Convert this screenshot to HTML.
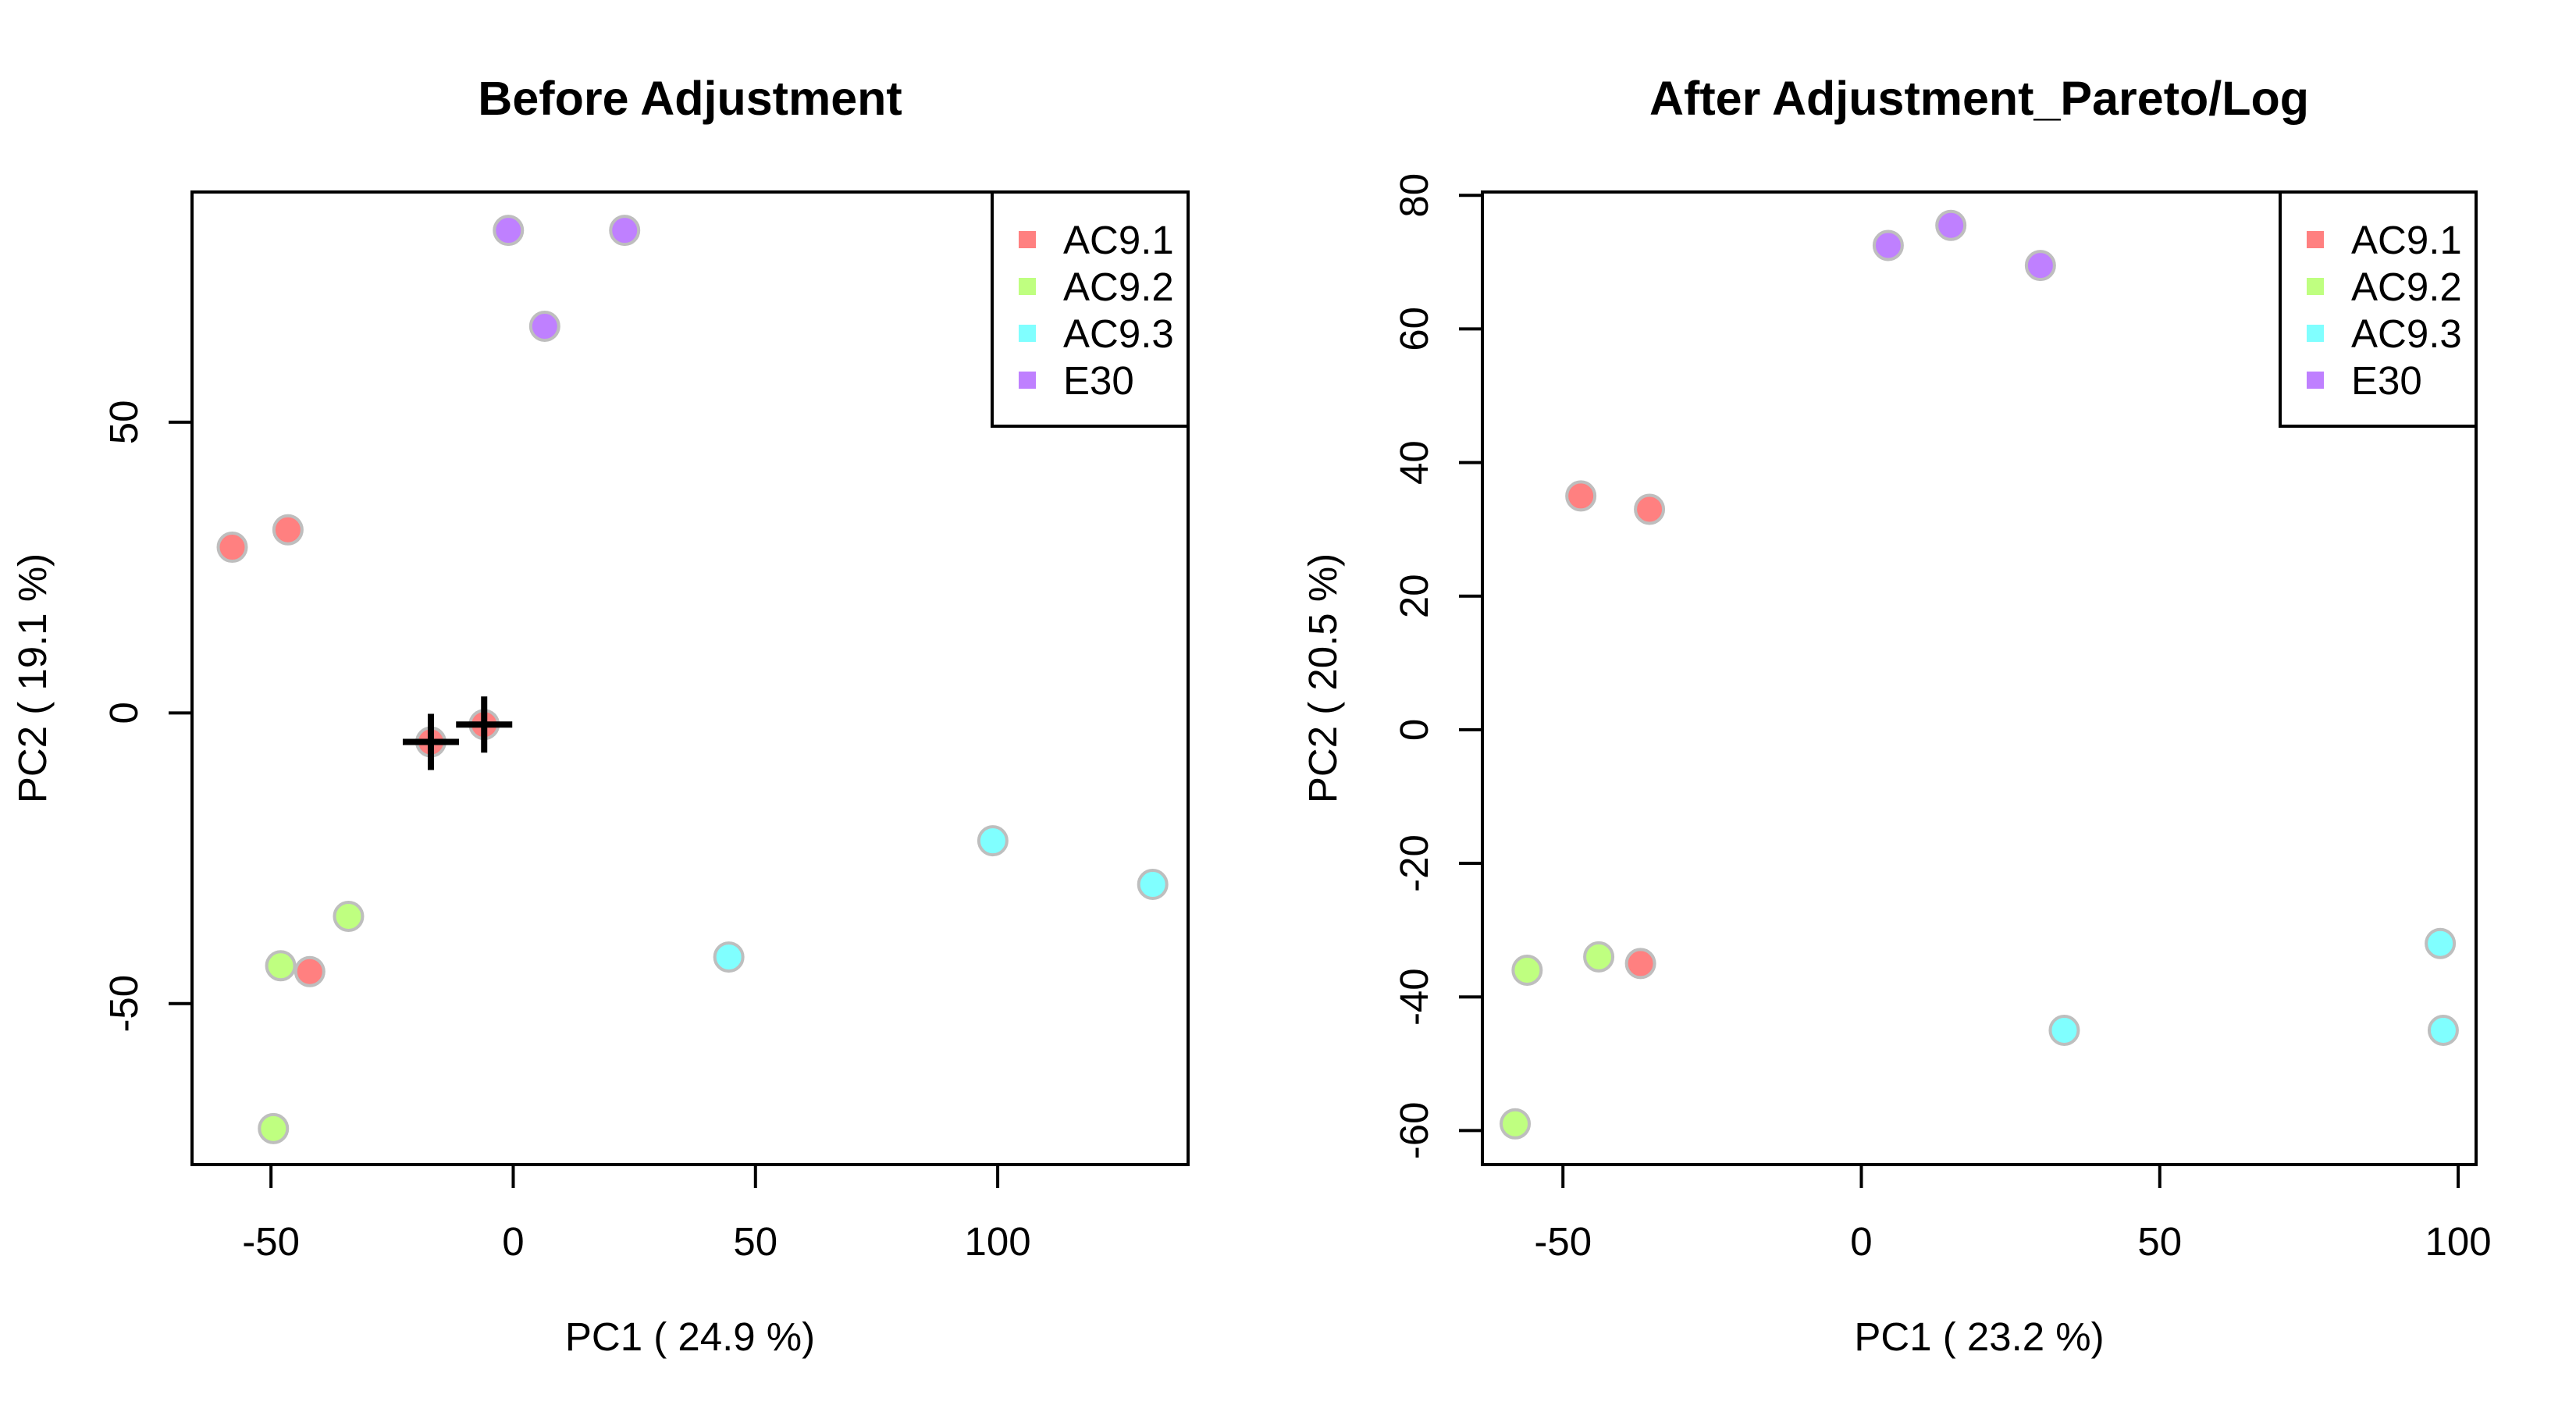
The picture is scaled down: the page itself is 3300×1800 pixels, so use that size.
<!DOCTYPE html>
<html><head><meta charset="utf-8"><style>
html,body{margin:0;padding:0;background:#fff}
svg{display:block;font-family:"Liberation Sans",Arial,sans-serif}
</style></head><body>
<svg id="chart" width="3300" height="1800" viewBox="0 0 3300 1800"></svg>
<script>
const groups = ["AC9.1","AC9.2","AC9.3","E30"];
const colors = ["#FF8080","#BFFF80","#80FFFF","#BF80FF"];
// Left panel data
const leftGroup = [3,3,3,0,0,0,0,0,1,1,1,2,2,2];
const leftX = [-1,23,6.5,-58,-46.5,-42,-17,-6,-34,-48,-49.5,44.5,99,132];
const leftY = [83,83,66.5,28.5,31.5,-44.5,-5,-2,-35,-43.5,-71.5,-42,-22,-29.5];
const leftCrossX = [-17,-6];
const leftCrossY = [-5,-2];
const leftXTicks = [-50,0,50,100];
const leftYTicks = [-50,0,50];
// Right panel data
const rightGroup = [3,3,3,0,0,0,1,1,1,2,2,2];
const rightX = [4.5,15,30,-47,-35.5,-37,-56,-44,-58,34,97,97.5];
const rightY = [72.5,75.5,69.5,35,33,-35,-36,-34,-59,-45,-32,-45];
const rightXTicks = [-50,0,50,100];
const rightYTicks = [-60,-40,-20,0,20,40,60,80];

const NS="http://www.w3.org/2000/svg";
const svg=document.getElementById('chart');
function mk(tag,attrs,parent){const e=document.createElementNS(NS,tag);for(const k in attrs)e.setAttribute(k,attrs[k]);(parent||svg).appendChild(e);return e;}

function panel(cfg){
  const g=mk('g',{});
  
  
  const L=cfg.box[0],R=cfg.box[1],T=cfg.box[2],B=cfg.box[3];
  const sx=v=>L+(v-cfg.xlim[0])/(cfg.xlim[1]-cfg.xlim[0])*(R-L);
  const sy=v=>B-(v-cfg.ylim[0])/(cfg.ylim[1]-cfg.ylim[0])*(B-T);
  const title=mk('text',{x:(L+R)/2,y:147,'text-anchor':'middle','font-size':61,'font-weight':'bold'},g);
  title.textContent=cfg.title;
  
  
  cfg.xticks.forEach(t=>{
    const x=sx(t);
    mk('line',{x1:x,x2:x,y1:B,y2:B+30,stroke:'#000','stroke-width':4},g);
    const lb=mk('text',{x:x,y:1608,'text-anchor':'middle','font-size':51},g);
    lb.textContent=t;
    
    
  });
  cfg.yticks.forEach(t=>{
    const y=sy(t);
    mk('line',{x1:L-30,x2:L,y1:y,y2:y,stroke:'#000','stroke-width':4},g);
    const lb=mk('text',{x:0,y:0,'text-anchor':'middle','font-size':51,transform:`translate(${L-70},${y}) rotate(-90)`},g);
    lb.textContent=t;
    
    
  });
  const xt=mk('text',{x:(L+R)/2,y:1730,'text-anchor':'middle','font-size':51},g);
  xt.textContent=cfg.xlab;
  
  
  const yt=mk('text',{x:0,y:0,'text-anchor':'middle','font-size':51,transform:`translate(${L-187},${(T+B)/2}) rotate(-90)`},g);
  yt.textContent=cfg.ylab;
  
  
  cfg.xs.forEach((v,i)=>{
    const c=mk('circle',{cx:sx(v),cy:sy(cfg.ys[i]),r:18,fill:colors[cfg.grp[i]],stroke:'#bebebe','stroke-width':4},g);
    
    
  });
  (cfg.cx||[]).forEach((v,i)=>{
    const x=sx(v),y=sy(cfg.cy[i]);
    const cg=mk('g',{},g);
    
    
    mk('line',{x1:x-36,x2:x+36,y1:y,y2:y,stroke:'#000','stroke-width':8},cg);
    mk('line',{x1:x,x2:x,y1:y-36,y2:y+36,stroke:'#000','stroke-width':8},cg);
  });
  mk('rect',{x:L,y:T,width:R-L,height:B-T,fill:'none',stroke:'#000','stroke-width':4},g);
  const lg=mk('g',{},g);
  
  
  mk('rect',{x:R-251,y:T,width:251,height:300,fill:'#fff',stroke:'#000','stroke-width':4},lg);
  groups.forEach((nm,i)=>{
    const y=T+61+i*60;
    const e=mk('g',{},lg);
    
    
    mk('rect',{x:R-217,y:y-11,width:22,height:22,fill:colors[i]},e);
    const t=mk('text',{x:R-160,y:y+18,'font-size':51},e);
    t.textContent=nm;
  });
}
panel({name:'before-adjustment-plot',title:'Before Adjustment',box:[246,1522,246,1492],
  xlim:[-66.3,139.3],ylim:[-77.7,89.6],xticks:leftXTicks,yticks:leftYTicks,
  xlab:'PC1 ( 24.9 %)',ylab:'PC2 ( 19.1 %)',xs:leftX,ys:leftY,grp:leftGroup,cx:leftCrossX,cy:leftCrossY});
panel({name:'after-adjustment-plot',title:'After Adjustment_Pareto/Log',box:[1899,3172,246,1492],
  xlim:[-63.5,103],ylim:[-65.1,80.5],xticks:rightXTicks,yticks:rightYTicks,
  xlab:'PC1 ( 23.2 %)',ylab:'PC2 ( 20.5 %)',xs:rightX,ys:rightY,grp:rightGroup});
</script>
</body></html>
